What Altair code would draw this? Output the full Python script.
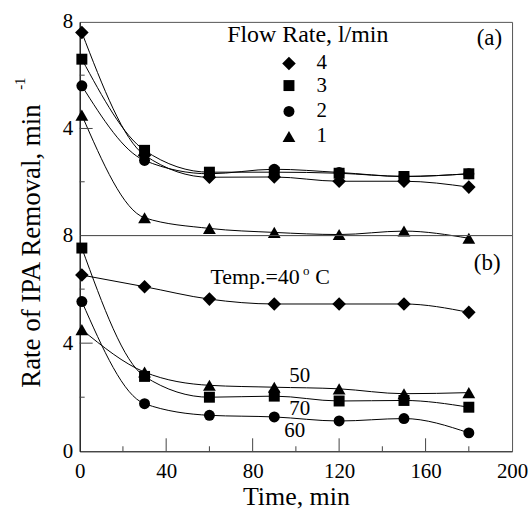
import altair as alt
import pandas as pd

FONT = "Liberation Serif"

times = [1, 30, 60, 90, 120, 150, 180]

# Panel (a): flow rate, l/min
flow_names = ["4", "3", "2", "1"]
flow_4 = [7.6, 3.0, 2.17, 2.18, 2.02, 2.02, 1.8]
flow_3 = [6.6, 3.18, 2.36, 2.36, 2.32, 2.2, 2.3]
flow_2 = [5.6, 2.8, 2.3, 2.47, 2.35, 2.2, 2.3]
flow_1 = [4.5, 0.65, 0.25, 0.1, 0.02, 0.15, -0.12]

# Panel (b): temperature, deg C
temp_names = ["40", "70", "60", "50"]
temp_40 = [6.52, 6.09, 5.63, 5.45, 5.45, 5.45, 5.14]
temp_70 = [7.52, 2.77, 2.0, 2.04, 1.86, 1.88, 1.63]
temp_60 = [5.54, 1.76, 1.33, 1.27, 1.12, 1.21, 0.68]
temp_50 = [4.5, 2.93, 2.44, 2.37, 2.31, 2.13, 2.17]

x_label_values = [0, 40, 80, 120, 160, 200]
x_major = [40, 80, 120, 160]
x_minor = [20, 60, 100, 140, 180]
ya_label_values = [4, 8]
yb_label_values = [0, 4, 8]
y_major = [4]
y_minor = [2, 6]

# legend (panel a)
legend_labels = ["4", "3", "2", "1"]
legend_sym_t = 96.8
legend_lab_t = 112
legend_v = [6.44, 5.61, 4.64, 3.70]

shapes = ["diamond", "square", "circle", "triangle-up"]
sizes = [185, 121, 121, 165]

W = 434
HA = 214
HB = 217

xsc = alt.Scale(domain=[0, 200], nice=False, zero=False)
ysc = alt.Scale(domain=[0, 8], nice=False, zero=False)


def long(names, series):
    rows = []
    for n, vals in zip(names, series):
        for t, v in zip(times, vals):
            rows.append({"series": n, "t": t, "v": v})
    return pd.DataFrame(rows)


def yaxis(vals):
    return alt.Axis(values=vals, ticks=False, domainColor="black", domainWidth=1,
                    labelFontSize=21, labelFont=FONT, labelColor="black",
                    labelPadding=7, labelFlush=False, grid=False, title=None)


def txt(df, size, align="center"):
    return alt.Chart(df).mark_text(font=FONT, fontSize=size, color="black",
                                   align=align, baseline="middle")


def panel(names, series, height, xs, ys, extra):
    df = long(names, series)
    base = alt.Chart(df)
    layers = [base.mark_line(interpolate="monotone", color="black", strokeWidth=1).encode(
        x=xs, y=ys, detail="series:N")]
    for n, sh, sz in zip(names, shapes, sizes):
        layers.append(base.transform_filter(alt.datum.series == n).mark_point(
            shape=sh, size=sz, filled=True, color="black", opacity=1, strokeWidth=0).encode(x=xs, y=ys))
    # inward y ticks
    layers.append(alt.Chart(pd.DataFrame({"v": y_major})).mark_rule(color="#444", strokeWidth=1).encode(
        y=ys, x=alt.value(0), x2=alt.value(13)))
    layers.append(alt.Chart(pd.DataFrame({"v": y_minor})).mark_rule(color="#444", strokeWidth=1).encode(
        y=ys, x=alt.value(0), x2=alt.value(5)))
    layers += extra
    return alt.layer(*layers).properties(width=W, height=height)


# ---------- panel (a)
xa = alt.X("t:Q", scale=xsc, axis=None)
ya = alt.Y("v:Q", scale=ysc, axis=yaxis(ya_label_values))

leg_sym = []
for lab, sh, sz, v in zip(legend_labels, shapes, sizes, legend_v):
    leg_sym.append(alt.Chart(pd.DataFrame({"t": [legend_sym_t], "v": [v]})).mark_point(
        shape=sh, size=sz, filled=True, color="black", opacity=1, strokeWidth=0).encode(x=xa, y=ya))
leg_txt = txt(pd.DataFrame({"t": [legend_lab_t] * 4, "v": legend_v, "s": legend_labels}), 21).encode(
    x=xa, y=ya, text="s:N")
head = txt(pd.DataFrame({"t": [105.5], "v": [7.51], "s": ["Flow Rate, l/min"]}), 24).encode(
    x=xa, y=ya, text="s:N")
tag_a = txt(pd.DataFrame({"t": [189.5], "v": [7.4], "s": ["(a)"]}), 23).encode(x=xa, y=ya, text="s:N")
ytitle = alt.Chart(pd.DataFrame({"s": ["Rate of IPA Removal, min"]})).mark_text(
    font=FONT, fontSize=27, color="black", align="center", baseline="alphabetic", angle=270).encode(
    x=alt.value(-40), y=alt.value(225), text="s:N")
ysup = alt.Chart(pd.DataFrame({"s": ["-1"]})).mark_text(
    font=FONT, fontSize=15, color="black", align="center", baseline="middle", angle=270).encode(
    x=alt.value(-60), y=alt.value(62), text="s:N")

pa = panel(flow_names, [flow_4, flow_3, flow_2, flow_1], HA, xa, ya,
           leg_sym + [leg_txt, head, tag_a, ytitle, ysup])

# ---------- panel (b)
xb = alt.X("t:Q", scale=xsc, axis=alt.Axis(
    values=x_label_values, ticks=False, domainColor="#333", domainWidth=1,
    labelFontSize=21, labelFont=FONT, labelColor="black", labelPadding=9, labelFlush=False,
    labelOverlap=False, grid=False, title="Time, min", titleFont=FONT, titleFontSize=26,
    titleFontWeight="normal", titleColor="black", titlePadding=2))
yb = alt.Y("v:Q", scale=ysc, axis=yaxis(yb_label_values))

xt_major = alt.Chart(pd.DataFrame({"t": x_major})).mark_rule(color="#444", strokeWidth=1).encode(
    x=xb, y=alt.value(HB), y2=alt.value(HB - 13))
xt_minor = alt.Chart(pd.DataFrame({"t": x_minor})).mark_rule(color="#444", strokeWidth=1).encode(
    x=xb, y=alt.value(HB), y2=alt.value(HB - 5))
temp_main = txt(pd.DataFrame({"t": [101.8], "v": [6.46], "s": ["Temp.=40"]}), 22, align="right").encode(
    x=xb, y=yb, text="s:N")
temp_o = txt(pd.DataFrame({"t": [104.8], "v": [6.68], "s": ["o"]}), 13).encode(x=xb, y=yb, text="s:N")
temp_c = txt(pd.DataFrame({"t": [109.0], "v": [6.46], "s": ["C"]}), 22, align="left").encode(
    x=xb, y=yb, text="s:N")
tag_b = txt(pd.DataFrame({"t": [188.5], "v": [6.96], "s": ["(b)"]}), 23).encode(x=xb, y=yb, text="s:N")
series_lab = txt(pd.DataFrame({"t": [101.8, 101.8, 99.5], "v": [2.77, 1.57, 0.74],
                               "s": ["50", "70", "60"]}), 21).encode(x=xb, y=yb, text="s:N")

pb = panel(temp_names, [temp_40, temp_70, temp_60, temp_50], HB, xb, yb,
           [xt_major, xt_minor, temp_main, temp_o, temp_c, tag_b, series_lab])

chart = alt.vconcat(pa, pb, spacing=0, bounds="flush").properties(
    padding={"left": 12, "top": 9, "right": 0, "bottom": 0},
    background="white",
).configure_view(stroke="#555", strokeWidth=1)

chart.save("out.html", embed_options={"renderer": "svg", "actions": False})
